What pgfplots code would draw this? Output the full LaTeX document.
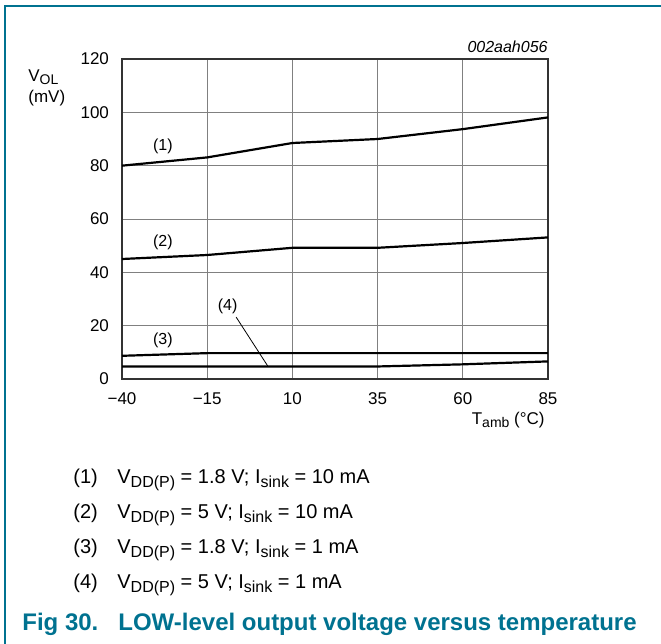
\documentclass[border=0pt]{standalone}
\usepackage{pgfplots}
\pgfplotsset{compat=1.18}
\usepackage{fontspec}
\setmainfont{Liberation Sans}
\definecolor{nxpteal}{RGB}{0,114,144}
\newcommand\sub[1]{\raisebox{-0.4ex}{\fontsize{8}{9}\selectfont #1}}
\newcommand\subt[1]{\raisebox{-0.4ex}{\fontsize{7}{8}\selectfont #1}}
\begin{document}
\begin{tikzpicture}
\useasboundingbox (0,0) rectangle (330.5pt,-322pt);
\draw[nxpteal, line width=1pt] (2.5pt,-322pt) -- (2.5pt,-3pt) -- (330.5pt,-3pt);
\begin{axis}[
  at={(61pt,-189.5pt)}, anchor=south west,
  scale only axis, width=213pt, height=160pt,
  xmin=-40, xmax=85, ymin=0, ymax=120,
  xtick={-40,-15,10,35,60,85},
  xticklabels={−40,−15,10,35,60,85},
  ytick={0,20,40,60,80,100,120},
  /pgf/number format/assume math mode=true,
  tick label style={font=\fontsize{8.5}{10}\selectfont},
  yticklabel style={xshift=-3pt},
  xticklabel style={yshift=-3.5pt},
  major tick length=0pt,
  grid=major,
  major grid style={draw=gray, line width=0.5pt},
  axis line style={draw=black!80, line width=0.6pt},
  clip=false,
]
\addplot[black, line width=1.1pt] coordinates {(-40,80) (-15,83.1) (10,88.5) (35,90) (60,93.7) (85,98.1)};
\addplot[black, line width=1.1pt] coordinates {(-40,45) (-15,46.5) (10,49.2) (35,49.2) (60,51) (85,53.1)};
\addplot[black, line width=1.1pt] coordinates {(-40,8.7) (-15,9.7) (10,9.7) (35,9.7) (60,9.7) (85,9.7)};
\addplot[black, line width=1.1pt] coordinates {(-40,4.7) (-15,4.7) (10,4.7) (35,4.7) (60,5.5) (85,6.6)};
\draw[black, line width=0.4pt] (axis cs:-6.5,23.2) -- (axis cs:2.75,4.9);
\node[font=\fontsize{8}{9}\selectfont] at (axis cs:-28,87.1) {(1)};
\node[font=\fontsize{8}{9}\selectfont] at (axis cs:-28,51.4) {(2)};
\node[font=\fontsize{8}{9}\selectfont] at (axis cs:-28,14.4) {(3)};
\node[font=\fontsize{8}{9}\selectfont] at (axis cs:-9,27.1) {(4)};
\end{axis}
\node[anchor=base east, font=\itshape\fontsize{8}{9}\selectfont, inner sep=0pt] at (274pt,-26pt) {002aah056};
\node[anchor=base west, font=\fontsize{8.5}{10}\selectfont, inner sep=0pt] at (14pt,-40.5pt) {V\subt{OL}};
\node[anchor=base west, font=\fontsize{8.5}{10}\selectfont, inner sep=0pt] at (14pt,-51pt) {(mV)};
\node[anchor=base east, font=\fontsize{8.5}{10}\selectfont, inner sep=0pt] at (272.5pt,-212pt) {T\subt{amb} (°C)};
\foreach \t/\txt [count=\i] in {1/{V\sub{DD(P)} = 1.8 V; I\sub{sink} = 10 mA},2/{V\sub{DD(P)} = 5 V; I\sub{sink} = 10 mA},3/{V\sub{DD(P)} = 1.8 V; I\sub{sink} = 1 mA},4/{V\sub{DD(P)} = 5 V; I\sub{sink} = 1 mA}}{
  \node[anchor=base west, font=\fontsize{10}{12}\selectfont, inner sep=0pt] at (36.5pt,{-241.5pt-(\i-1)*17.5pt}) {(\t)};
  \node[anchor=base west, font=\fontsize{10}{12}\selectfont, inner sep=0pt] at (58.5pt,{-241.5pt-(\i-1)*17.5pt}) {\txt};
}
\node[anchor=base west, font=\bfseries\fontsize{12}{14}\selectfont, text=nxpteal, inner sep=0pt] at (11pt,-315pt) {Fig 30.};
\node[anchor=base west, font=\bfseries\fontsize{12}{14}\selectfont, text=nxpteal, inner sep=0pt] at (59pt,-315pt) {LOW-level output voltage versus temperature};
\end{tikzpicture}
\end{document}
